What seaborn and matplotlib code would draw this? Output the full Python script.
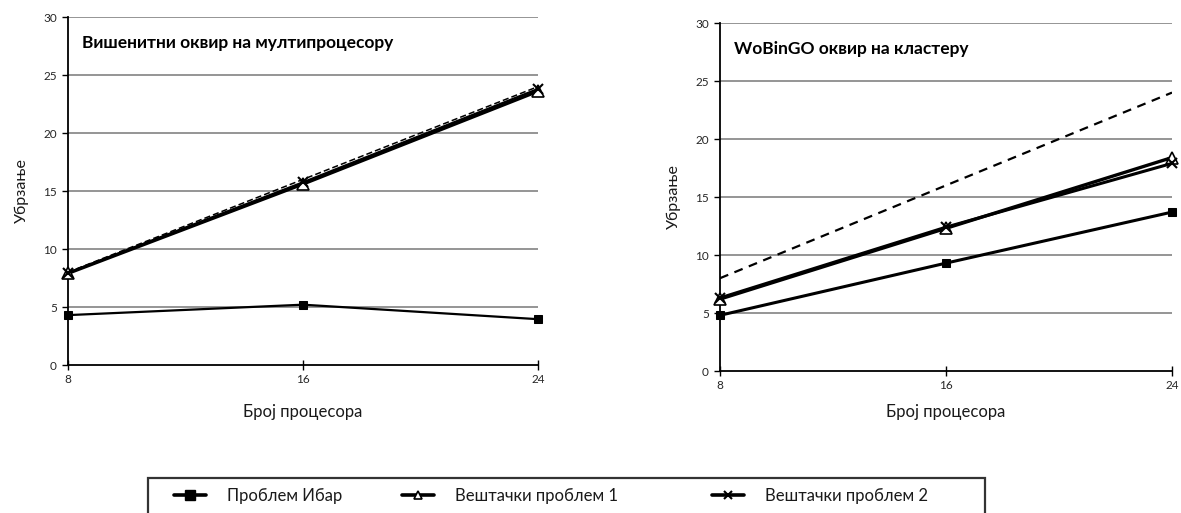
import matplotlib
matplotlib.use("Agg")
import matplotlib.pyplot as plt
from matplotlib.lines import Line2D
from matplotlib.patches import Rectangle
import pandas as pd
import seaborn as sns

sns.set_theme(style="white")
plt.rcParams["font.family"] = ["Lato", "DejaVu Sans"]

processors = [8, 16, 24]
ideal = [8, 16, 24]

# speedup on the multiprocessor (multithreaded framework)
mp_ibar = [4.3, 5.2, 3.95]
mp_art1 = [7.9, 15.6, 23.6]
mp_art2 = [7.95, 15.75, 23.8]

# speedup on the cluster (WoBinGO framework)
cl_ibar = [4.8, 9.3, 13.7]
cl_art1 = [6.2, 12.3, 18.4]
cl_art2 = [6.3, 12.4, 17.9]

series_names = ["Проблем Ибар", "Вештачки проблем 1", "Вештачки проблем 2"]
panel_titles = ["Вишенитни оквир на мултипроцесору", "WoBinGO оквир на кластеру"]
x_label = "Број процесора"
y_label = "Убрзање"
y_ticks = [0, 5, 10, 15, 20, 25, 30]

styles = {
    "Проблем Ибар": dict(marker="s", markersize=6, markerfacecolor="black",
                         markeredgecolor="black"),
    "Вештачки проблем 1": dict(marker="^", markersize=8, markerfacecolor="white",
                               markeredgecolor="black", markeredgewidth=1.2),
    "Вештачки проблем 2": dict(marker="x", markersize=7, markeredgecolor="black",
                               markeredgewidth=1.5),
}
legend_marker_sizes = {"Проблем Ибар": 7.5, "Вештачки проблем 1": 6, "Вештачки проблем 2": 6}

W, H = 1181, 513
fig = plt.figure(figsize=(W / 100, H / 100), dpi=100)

ax_left = fig.add_axes([68 / W, 1 - 365 / H, 470 / W, 348 / H])
ax_right = fig.add_axes([720 / W, 1 - 371 / H, 452 / W, 348 / H])


def draw_panel(ax, title, ibar, art1, art2, lw, dash_lw, dashes, xpad):
    frames = []
    for name, vals in zip(series_names, [ibar, art1, art2]):
        frames.append(pd.DataFrame({"p": processors, "s": vals, "series": name}))
    df = pd.concat(frames, ignore_index=True)

    for y in y_ticks[1:]:
        ax.axhline(y, color="#8c8c8c", lw=1.3, zorder=0)

    for name in series_names:
        sub = df[df["series"] == name]
        sns.lineplot(data=sub, x="p", y="s", ax=ax, color="black", lw=lw[name],
                     zorder=3, clip_on=False, **styles[name])

    ideal_df = pd.DataFrame({"p": processors, "s": ideal})
    sns.lineplot(data=ideal_df, x="p", y="s", ax=ax, color="black",
                 lw=dash_lw, zorder=2)
    ax.lines[-1].set_dashes(dashes)

    ax.set_xlim(8, 24)
    ax.set_ylim(0, 30)
    ax.set_xticks(processors)
    ax.set_yticks(y_ticks)
    ax.tick_params(axis="x", direction="inout", length=7, width=1, color="black",
                   labelsize=8.5, pad=3, bottom=True)
    ax.tick_params(axis="y", direction="out", length=4, width=1, color="black",
                   labelsize=8.5, pad=4, left=True)
    for lab in ax.get_xticklabels() + ax.get_yticklabels():
        lab.set_color("#262626")
    for side in ["top", "right"]:
        ax.spines[side].set_visible(False)
    for side in ["left", "bottom"]:
        ax.spines[side].set_color("black")
        ax.spines[side].set_linewidth(1.3)
    ax.grid(False)
    ax.set_xlabel(x_label, fontsize=12, labelpad=xpad, color="#1a1a1a")
    ax.set_ylabel(y_label, fontsize=11.5, labelpad=10, color="#1a1a1a")
    ax.text(0.03, 0.925, title, transform=ax.transAxes, fontsize=12.5,
            fontweight="bold", color="black", ha="left", va="center")


draw_panel(ax_left, panel_titles[0], mp_ibar, mp_art1, mp_art2,
           {"Проблем Ибар": 1.6, "Вештачки проблем 1": 2.4, "Вештачки проблем 2": 1.6},
           1.1, (4, 2), 14)
draw_panel(ax_right, panel_titles[1], cl_ibar, cl_art1, cl_art2,
           {"Проблем Ибар": 2.2, "Вештачки проблем 1": 2.4, "Вештачки проблем 2": 2.2},
           1.6, (4, 3), 9)

# legend frame running off the bottom edge
fig.patches.append(Rectangle((148 / W, -0.05), 837 / W, 0.05 + (513 - 478) / H,
                             transform=fig.transFigure, fill=False,
                             edgecolor="#333333", lw=1.6))

# one legend entry per slot along the shared legend strip
entry_x = [174, 402, 712]
for n, x0 in zip(series_names, entry_x):
    st = dict(styles[n])
    st["markersize"] = legend_marker_sizes[n]
    handle = Line2D([], [], color="black", lw=2.6, **st)
    leg = fig.legend([handle], [n], loc="center left",
                     bbox_to_anchor=(x0 / W, 1 - 496 / H), frameon=False,
                     fontsize=12, handlelength=1.9, handletextpad=1.3,
                     borderpad=0, borderaxespad=0)
    for t in leg.get_texts():
        t.set_color("#1a1a1a")

fig.savefig("out.png", dpi=100, facecolor="white")
